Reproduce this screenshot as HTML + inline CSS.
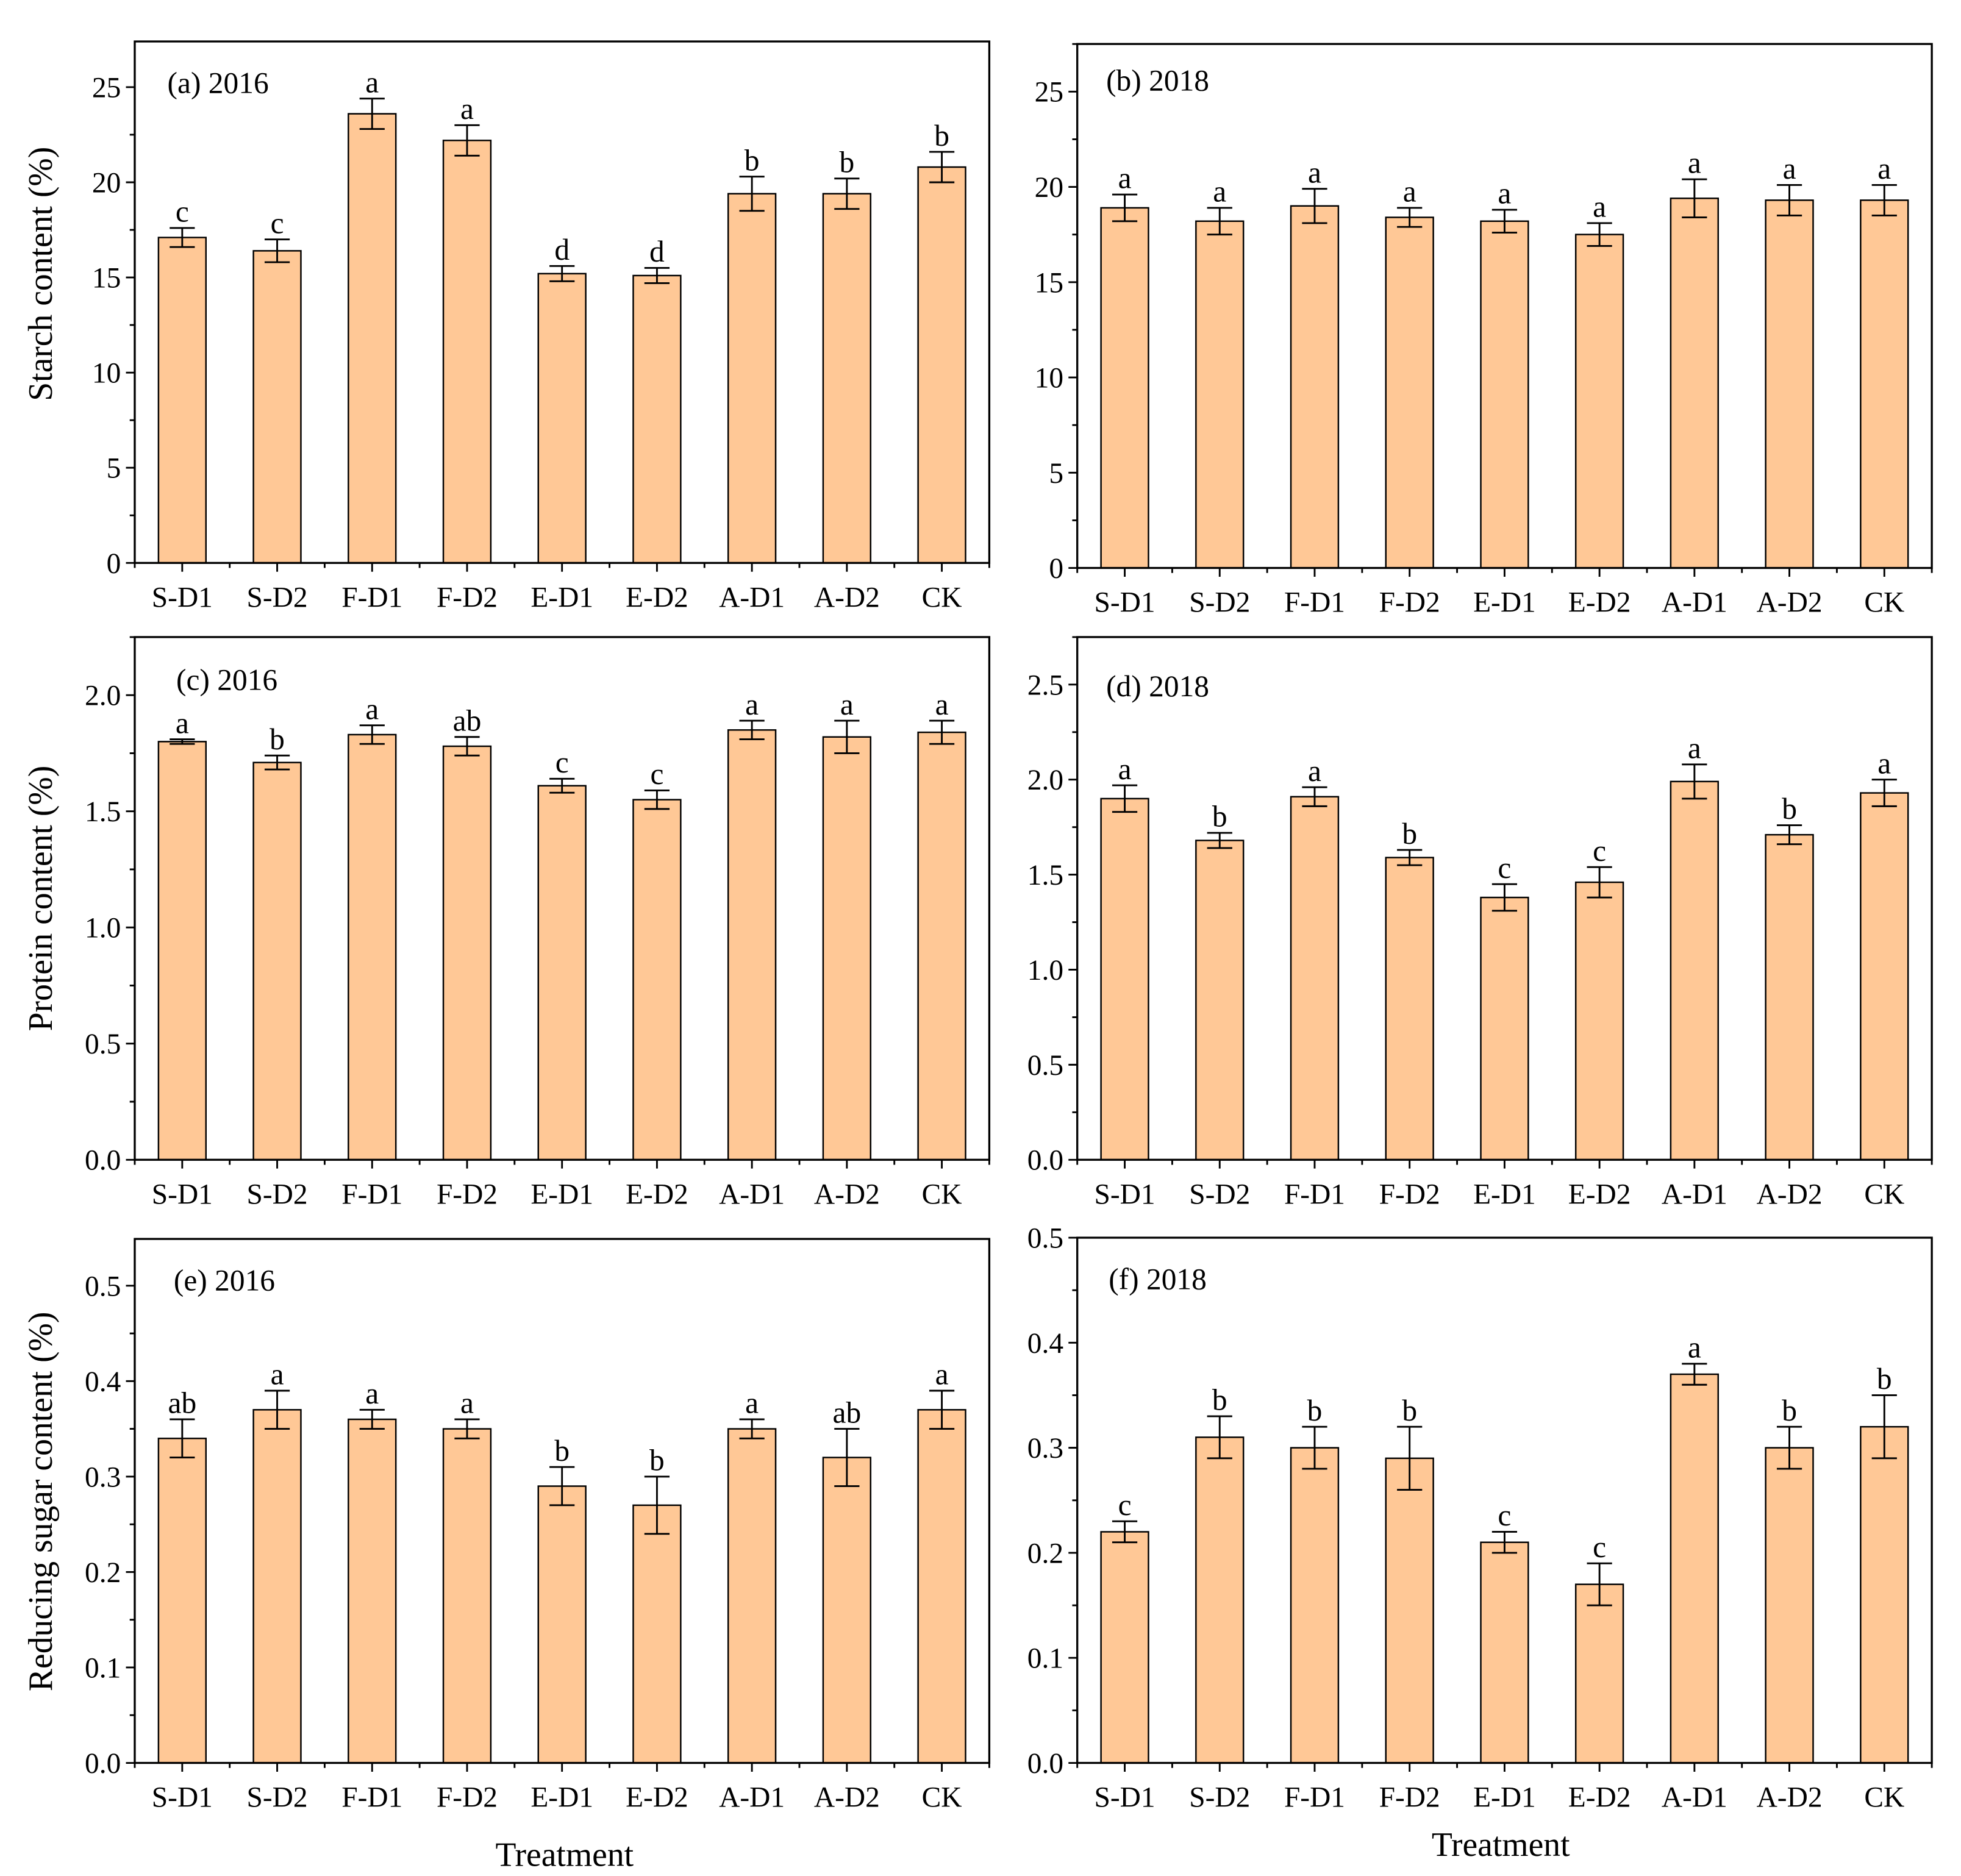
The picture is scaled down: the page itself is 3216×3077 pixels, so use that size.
<!DOCTYPE html>
<html><head><meta charset="utf-8"><style>
html,body{margin:0;padding:0;background:#fff;}
svg{display:block;}
text{font-family:"Liberation Serif",serif;fill:#000;}
</style></head>
<body>
<svg id="fig" width="3216" height="3077" viewBox="0 0 1560 1493" xmlns="http://www.w3.org/2000/svg"></svg>
<script>
const categories = ["S-D1","S-D2","F-D1","F-D2","E-D1","E-D2","A-D1","A-D2","CK"];
const valsA = [17.1,16.4,23.6,22.2,15.2,15.1,19.4,19.4,20.8];
const errA  = [0.5,0.6,0.8,0.8,0.4,0.4,0.9,0.8,0.8];
const letA  = ["c","c","a","a","d","d","b","b","b"];
const valsB = [18.9,18.2,19.0,18.4,18.2,17.5,19.4,19.3,19.3];
const errB  = [0.7,0.7,0.9,0.5,0.6,0.6,1.0,0.8,0.8];
const letB  = ["a","a","a","a","a","a","a","a","a"];
const valsC = [1.80,1.71,1.83,1.78,1.61,1.55,1.85,1.82,1.84];
const errC  = [0.01,0.03,0.04,0.04,0.03,0.04,0.04,0.07,0.05];
const letC  = ["a","b","a","ab","c","c","a","a","a"];
const valsD = [1.90,1.68,1.91,1.59,1.38,1.46,1.99,1.71,1.93];
const errD  = [0.07,0.04,0.05,0.04,0.07,0.08,0.09,0.05,0.07];
const letD  = ["a","b","a","b","c","c","a","b","a"];
const valsE = [0.34,0.37,0.36,0.35,0.29,0.27,0.35,0.32,0.37];
const errE  = [0.02,0.02,0.01,0.01,0.02,0.03,0.01,0.03,0.02];
const letE  = ["ab","a","a","a","b","b","a","ab","a"];
const valsF = [0.22,0.31,0.30,0.29,0.21,0.17,0.37,0.30,0.32];
const errF  = [0.01,0.02,0.02,0.03,0.01,0.02,0.01,0.02,0.03];
const letF  = ["c","b","b","b","c","c","a","b","b"];
const ticksStarch = ["0","5","10","15","20","25"];
const ticksProtC = ["0.0","0.5","1.0","1.5","2.0"];
const ticksProtD = ["0.0","0.5","1.0","1.5","2.0","2.5"];
const ticksSugar = ["0.0","0.1","0.2","0.3","0.4","0.5"];

const NS="http://www.w3.org/2000/svg";
const svg=document.getElementById('fig');
function mk(tag,attrs,parent,txt){const e=document.createElementNS(NS,tag);for(const k in attrs)e.setAttribute(k,attrs[k]);if(txt!==undefined)e.textContent=txt;(parent||svg).appendChild(e);return e;}

const panels=[
 {id:"a",title:"(a) 2016",tx:133,ty:74,L:107,R:787,T:33,B:448,ymax:27.4,step:5,minor:2.5,ticks:ticksStarch,v:valsA,e:errA,l:letA,xl:483},
 {id:"b",title:"(b) 2018",tx:880,ty:72,L:857,R:1537,T:35,B:452,ymax:27.5,step:5,minor:2.5,ticks:ticksStarch,v:valsB,e:errB,l:letB,xl:487},
 {id:"c",title:"(c) 2016",tx:140,ty:549,L:107,R:787,T:507,B:923,ymax:2.25,step:0.5,minor:0.25,ticks:ticksProtC,v:valsC,e:errC,l:letC,xl:958},
 {id:"d",title:"(d) 2018",tx:880,ty:554,L:857,R:1537,T:507,B:923,ymax:2.75,step:0.5,minor:0.25,ticks:ticksProtD,v:valsD,e:errD,l:letD,xl:958},
 {id:"e",title:"(e) 2016",tx:138,ty:1027,L:107,R:787,T:986,B:1403,ymax:0.549,step:0.1,minor:0.05,ticks:ticksSugar,v:valsE,e:errE,l:letE,xl:1438},
 {id:"f",title:"(f) 2018",tx:882,ty:1026,L:857,R:1537,T:985,B:1403,ymax:0.5,step:0.1,minor:0.05,ticks:ticksSugar,v:valsF,e:errF,l:letF,xl:1438}
];

panels.forEach(p=>{
 const g=mk('g',{});
 
 
 const n=categories.length, bw=(p.R-p.L)/n;
 const ys=v=>p.B-(v/p.ymax)*(p.B-p.T);
 const xs=i=>p.L+bw*(i+0.5);
 p.v.forEach((v,i)=>{
  const r=mk('rect',{x:xs(i)-bw*0.25,y:ys(v),width:bw*0.5,height:p.B-ys(v),fill:"#FFC896",stroke:"#000","stroke-width":1.2},g);
  
  
  const top=ys(v+p.e[i]), bot=ys(v-p.e[i]), cx=xs(i);
  const eb=mk('path',{d:`M${cx},${top}V${bot}M${cx-10},${top}H${cx+10}M${cx-10},${bot}H${cx+10}`,stroke:"#000","stroke-width":1.4,fill:"none"},g);
  
  
  const lt=mk('text',{x:cx,y:top-5,"text-anchor":"middle","font-size":24},g,p.l[i]);
  
  
  const xl=mk('text',{x:cx,y:p.xl,"text-anchor":"middle","font-size":23},g,categories[i]);
  
  
 });
 const fr=mk('rect',{x:p.L,y:p.T,width:p.R-p.L,height:p.B-p.T,fill:"none",stroke:"#000","stroke-width":1.6},g);
 
 
 let d="";
 for(let i=0;i<n;i++){d+=`M${xs(i)},${p.B}v7`;}
 for(let i=0;i<=n;i++){d+=`M${p.L+bw*i},${p.B}v4`;}
 for(let k=0;k*p.minor<=p.ymax+1e-9;k++){
  const y=ys(k*p.minor); d+=`M${p.L},${y}h${k%2===0?-7:-4}`;
 }
 mk('path',{d:d,stroke:"#000","stroke-width":1.4,fill:"none"},g);
 p.ticks.forEach((t,k)=>{
  const yt=mk('text',{x:p.L-11,y:ys(k*p.step)+8,"text-anchor":"end","font-size":23},g,t);
  
  
 });
 const tt=mk('text',{x:p.tx,y:p.ty,"font-size":24},g,p.title);
 
 
});

function ytitle(txt,cy,name){
 const t=mk('text',{x:0,y:0,"text-anchor":"middle","font-size":27,transform:`translate(41,${cy}) rotate(-90)`},svg,txt);
 
 
}
ytitle("Starch content (%)",218,"y-axis-title-starch");
ytitle("Protein content (%)",715,"y-axis-title-protein");
ytitle("Reducing sugar content (%)",1195,"y-axis-title-sugar");
const x1=mk('text',{x:449,y:1485,"text-anchor":"middle","font-size":27},svg,"Treatment");


const x2=mk('text',{x:1194,y:1477,"text-anchor":"middle","font-size":27},svg,"Treatment");


</script>
</body></html>
